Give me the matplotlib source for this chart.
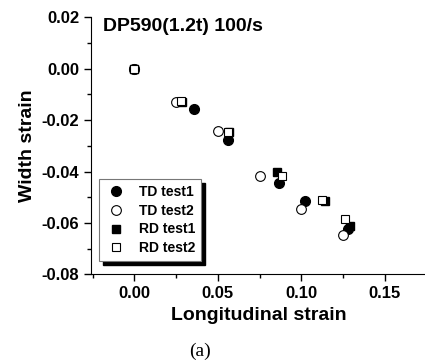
import matplotlib.pyplot as plt
from matplotlib.patches import Rectangle

# Longitudinal / width strain pairs
td1_x = [0.0, 0.0356, 0.0560, 0.0866, 0.1020, 0.1276]
td1_y = [0.0, -0.0157, -0.0277, -0.0443, -0.0513, -0.0624]
td2_x = [0.0, 0.0250, 0.0500, 0.0750, 0.1000, 0.1248]
td2_y = [0.0, -0.0131, -0.0243, -0.0416, -0.0547, -0.0648]
rd1_x = [0.0, 0.0286, 0.0568, 0.0854, 0.1144, 0.1288]
rd1_y = [0.0, -0.0131, -0.0248, -0.0402, -0.0516, -0.0611]
rd2_x = [0.0, 0.0282, 0.0560, 0.0882, 0.1122, 0.1262]
rd2_y = [0.0, -0.0127, -0.0247, -0.0416, -0.0512, -0.0585]

plt.rcParams['font.family'] = ['Liberation Sans', 'DejaVu Sans']
plt.rcParams['font.weight'] = 'bold'

fig = plt.figure(figsize=(4.25, 3.64), dpi=100)
ax = fig.add_axes([0.214, 0.246, 0.79, 0.707])

ax.plot(td1_x, td1_y, 'o', color='k', ms=7, label='TD test1')
ax.plot(td2_x, td2_y, 'o', mfc='white', mec='k', mew=0.8, ms=7, label='TD test2')
ax.plot(rd1_x, rd1_y, 's', color='k', ms=6, label='RD test1')
ax.plot(rd2_x, rd2_y, 's', mfc='white', mec='k', mew=0.8, ms=6, label='RD test2')

ax.set_xlim(-0.026, 0.175)
ax.set_ylim(-0.08, 0.02)
ax.set_xticks([0.0, 0.05, 0.10, 0.15])
ax.set_xticks([-0.025, 0.025, 0.075, 0.125], minor=True)
ax.set_yticks([-0.08, -0.06, -0.04, -0.02, 0.0, 0.02])
ax.set_yticks([-0.07, -0.05, -0.03, -0.01, 0.01], minor=True)
ax.xaxis.set_major_formatter(plt.FormatStrFormatter('%.2f'))
ax.yaxis.set_major_formatter(plt.FormatStrFormatter('%.2f'))
ax.tick_params(which='major', direction='out', length=5, width=1, labelsize=12)
ax.tick_params(which='minor', direction='out', length=3, width=1)
for s in ['top', 'right']:
    ax.spines[s].set_visible(False)

ax.set_xlabel('Longitudinal strain', fontsize=14, fontweight='bold', labelpad=4)
ax.set_ylabel('Width strain', fontsize=14, fontweight='bold', labelpad=4)
ax.text(0.036, 0.995, 'DP590(1.2t) 100/s', transform=ax.transAxes,
        fontsize=14, fontweight='bold', va='top', ha='left')

leg = ax.legend(loc='upper left', bbox_to_anchor=(0.024, 0.372), frameon=True,
                fancybox=False, edgecolor='#777777', framealpha=1, fontsize=10,
                handletextpad=0.8, labelspacing=0.34, borderpad=0.45,
                handlelength=1.6, borderaxespad=0)
leg.get_frame().set_linewidth(0.8)
leg.set_zorder(5)

fig.canvas.draw()
bb = leg.get_window_extent().transformed(ax.transAxes.inverted())
ax.add_patch(Rectangle((bb.x0 + 0.011, bb.y0 - 0.015), bb.width, bb.height,
                       transform=ax.transAxes, color='k', zorder=4, clip_on=False))

fig.text(0.47, 0.035, '(a)', fontsize=14, family='Liberation Serif',
         fontweight='normal', ha='center', va='center')

fig.savefig('out.png', dpi=100)
